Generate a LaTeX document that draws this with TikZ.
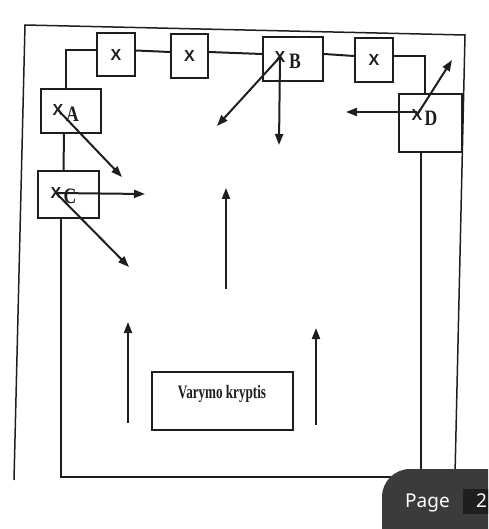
\documentclass[tikz,border=0pt]{standalone}
\usepackage{graphicx}
\usepackage{fontspec}
\setmainfont{Liberation Serif}
\newfontfamily\xfont{Liberation Sans}
\newfontfamily\pagefont{Noto Sans}
\usetikzlibrary{arrows.meta,calc}
\definecolor{ink}{HTML}{1E1E1E}
\definecolor{pagebg}{HTML}{3B3B3B}
\definecolor{pagenum}{HTML}{1F1F1F}
\tikzset{
  frame/.style={draw=ink, line width=1.5pt},
  wire/.style={draw=ink, line width=2pt},
  box/.style={draw=ink, line width=2pt, fill=white, inner sep=0pt},
  xmark/.style={font=\xfont\bfseries\fontsize{16}{16}\selectfont, text=ink, inner sep=0pt},
  lbl/.style={font=\bfseries\fontsize{22}{22}\selectfont, text=ink, inner sep=0pt},
  arr/.style={draw=ink, line width=2pt, -{Triangle[length=11pt,width=8pt]}},
  pagetxt/.style={font=\pagefont\fontsize{19}{19}\selectfont, text=white, inner sep=0pt},
}
\begin{document}
\begin{tikzpicture}[x=1pt,y=-1pt]
\useasboundingbox (0,0) rectangle (488,529);
% outer frame (open at the bottom)
\coordinate (o1) at (14,480);
\coordinate (o2) at (25,25);
\coordinate (o3) at (465,35);
\coordinate (o4) at (455,475);
\draw[frame] (o1) -- (o2) -- (o3) -- (o4);

% boxes
\node[box, xmark, minimum width=38pt, minimum height=43pt] (X1) at (116,54.5) {X};
\node[box, xmark, minimum width=37pt, minimum height=44pt] (X2) at (189.5,56) {X};
\node[box, minimum width=60pt, minimum height=44pt] (B) at (293,59) {};
\node[box, xmark, minimum width=38pt, minimum height=44pt] (X4) at (374,60) {X};
\node[box, minimum width=60pt, minimum height=44pt] (A) at (71,111) {};
\node[box, minimum width=61pt, minimum height=47pt] (C) at (68.5,194.5) {};
\node[box, minimum width=63pt, minimum height=58pt] (D) at (430.5,123) {};
\node[box, minimum width=141pt, minimum height=58pt] (V) at (222.5,401) {};
\node[lbl, font=\bfseries\fontsize{19}{19}\selectfont] (Vt) at (222,394) {\scalebox{0.69}[1]{Varymo kryptis}};

% inner loop
\coordinate (bot) at (238,477);
\draw[wire] ([yshift=4pt]X1.west) -| ([xshift=-5pt]A.north);
\draw[wire] ([yshift=4pt]X1.east) -- ([yshift=4pt]X2.west);
\draw[wire] ([yshift=4pt]X2.east) -- ([yshift=5pt]B.west);
\draw[wire] ([yshift=5pt]B.east) -- ([yshift=4pt]X4.west);
\draw[wire] ([yshift=4pt]X4.east) -| ([xshift=-6pt]D.north);
\draw[wire] ([xshift=-7pt]A.south) -- ([xshift=-5pt]C.north);
\draw[wire] ([xshift=-8pt]C.south) |- (bot) -| ([xshift=-10pt]D.south);

% crosses and letters
\node[xmark] (cA) at (58,110) {X};
\node[lbl] (lA) at (72.5,114) {\scalebox{0.8}[1]{A}};
\node[xmark] (cC) at (56,193) {X};
\node[lbl] (lC) at (70,196) {\scalebox{0.8}[1]{C}};
\node[xmark] (cB) at (280,57) {X};
\node[lbl] (lB) at (295,61) {\scalebox{0.8}[1]{B}};
\node[xmark] (cD) at (417,115) {X};
\node[lbl] (lD) at (431,118) {\scalebox{0.8}[1]{D}};

% arrow tips and tails
\coordinate (tA) at (122,177);
\coordinate (tC1) at (145,194);
\coordinate (tC2) at (129,267);
\coordinate (tB1) at (217,126);
\coordinate (tB2) at (279,145);
\coordinate (tD1) at (452,60);
\coordinate (tD2) at (346,112);
\coordinate (m1s) at (226,289);
\coordinate (m1e) at (226,188);
\coordinate (l1s) at (128,423);
\coordinate (l1e) at (128,322);
\coordinate (r1s) at (316,425);
\coordinate (r1e) at (316,328);

\draw[arr] (cA.center) -- (tA);
\draw[arr] (cC.center) -- (tC1);
\draw[arr] (cC.center) -- (tC2);
\draw[arr] (cB.center) -- (tB1);
\draw[arr] (cB.center) -- (tB2);
\draw[arr] (cD.center) -- (tD1);
\draw[arr] ([yshift=3pt]cD.center) -- (tD2);
\draw[arr] (m1s) -- (m1e);
\draw[arr] (l1s) -- (l1e);
\draw[arr] (r1s) -- (r1e);

% viewer overlay
\begin{scope}
\clip (0,0) rectangle (488,529);
\fill[pagebg, rounded corners=28pt] (382,469) rectangle (540,580);
\fill[pagenum] (463,489) rectangle (500,514);
\node[pagetxt, anchor=base west] (pg) at (405,507) {Page};
\node[pagetxt, anchor=base west] (pn) at (476,507) {2};
\end{scope}
\end{tikzpicture}
\end{document}
